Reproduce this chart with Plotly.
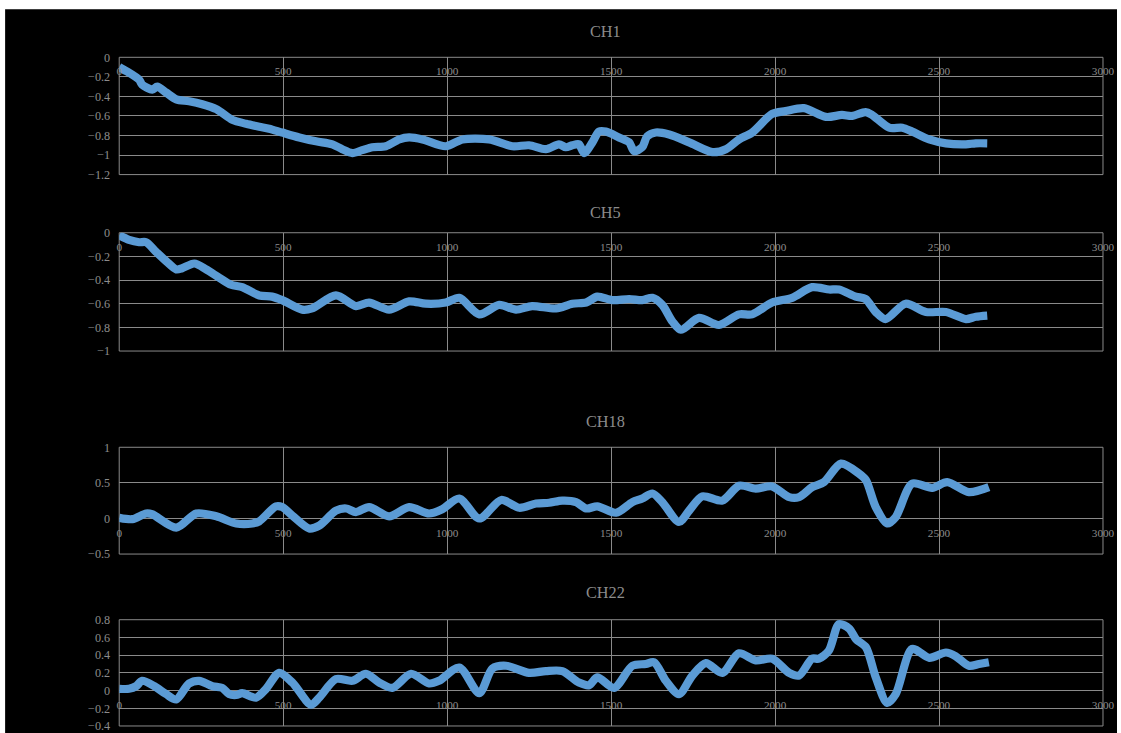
import plotly.graph_objects as go

# Sample index for each channel trace
ch1_x = [0, 21, 61, 70, 101, 116, 143, 174, 213, 253, 296, 345, 387, 427, 457, 497, 549, 600, 650, 680,
         711, 741, 772, 813, 854, 884, 925, 996, 1047, 1128, 1199, 1250, 1301, 1341, 1362, 1382, 1402,
         1418, 1443, 1463, 1484, 1524, 1555, 1570, 1595, 1610, 1636, 1677, 1738, 1809, 1850, 1890, 1930,
         1991, 2032, 2088, 2155, 2204, 2235, 2276, 2296, 2348, 2388, 2418, 2470, 2521, 2582, 2612, 2647]
ch1_y = [-0.10, -0.14, -0.23, -0.28, -0.33, -0.30, -0.36, -0.43, -0.45, -0.48, -0.53, -0.64, -0.68, -0.71,
         -0.73, -0.77, -0.82, -0.86, -0.89, -0.94, -0.98, -0.95, -0.92, -0.91, -0.84, -0.82, -0.84, -0.91,
         -0.84, -0.84, -0.91, -0.90, -0.94, -0.89, -0.92, -0.90, -0.89, -0.98, -0.87, -0.76, -0.76, -0.82,
         -0.87, -0.96, -0.92, -0.81, -0.77, -0.79, -0.87, -0.97, -0.94, -0.84, -0.77, -0.58, -0.55, -0.52,
         -0.61, -0.59, -0.60, -0.56, -0.59, -0.72, -0.72, -0.76, -0.84, -0.88, -0.89, -0.88, -0.88]

ch5_x = [0, 30, 61, 82, 112, 143, 174, 192, 229, 265, 305, 341, 375, 427, 466, 497, 558, 588, 661, 722,
         762, 823, 884, 935, 996, 1037, 1098, 1159, 1210, 1259, 1332, 1382, 1424, 1458, 1504, 1555, 1595,
         1626, 1656, 1687, 1713, 1768, 1829, 1890, 1930, 1991, 2052, 2113, 2165, 2195, 2246, 2276, 2307,
         2337, 2398, 2460, 2521, 2582, 2612, 2647]
ch5_y = [-0.02, -0.06, -0.08, -0.08, -0.16, -0.24, -0.31, -0.30, -0.26, -0.31, -0.38, -0.44, -0.46, -0.53,
         -0.54, -0.57, -0.65, -0.64, -0.53, -0.62, -0.59, -0.65, -0.58, -0.60, -0.59, -0.55, -0.69, -0.61,
         -0.65, -0.62, -0.64, -0.60, -0.59, -0.54, -0.57, -0.56, -0.57, -0.55, -0.61, -0.75, -0.82, -0.72,
         -0.78, -0.69, -0.69, -0.59, -0.55, -0.46, -0.48, -0.48, -0.54, -0.56, -0.67, -0.73, -0.60, -0.67,
         -0.67, -0.73, -0.71, -0.70]

ch18_x = [0, 40, 82, 100, 174, 235, 296, 357, 406, 427, 478, 497, 528, 579, 610, 661, 692, 722, 762, 823,
          884, 945, 985, 1037, 1098, 1165, 1220, 1271, 1311, 1351, 1393, 1424, 1458, 1515, 1565, 1595,
          1626, 1656, 1707, 1738, 1778, 1839, 1890, 1941, 1991, 2043, 2073, 2113, 2149, 2201, 2256, 2277,
          2307, 2342, 2368, 2418, 2479, 2525, 2591, 2652]
ch18_y = [0.01, -0.01, 0.07, 0.06, -0.13, 0.07, 0.03, -0.07, -0.07, -0.04, 0.17, 0.16, 0.04, -0.14, -0.10,
          0.11, 0.14, 0.09, 0.16, 0.03, 0.16, 0.07, 0.13, 0.28, 0.00, 0.26, 0.15, 0.21, 0.22, 0.25, 0.23,
          0.14, 0.17, 0.08, 0.23, 0.28, 0.35, 0.23, -0.05, 0.11, 0.31, 0.25, 0.46, 0.42, 0.45, 0.30, 0.30,
          0.44, 0.51, 0.77, 0.63, 0.54, 0.16, -0.07, 0.02, 0.49, 0.43, 0.51, 0.37, 0.44]

ch22_x = [0, 30, 52, 70, 107, 143, 174, 213, 244, 284, 314, 335, 357, 375, 417, 448, 488, 528, 585, 610,
          661, 711, 752, 793, 833, 890, 945, 975, 1037, 1098, 1138, 1180, 1250, 1301, 1351, 1402, 1433,
          1458, 1509, 1565, 1606, 1631, 1667, 1707, 1748, 1789, 1839, 1890, 1941, 1991, 2043, 2073, 2113,
          2134, 2164, 2195, 2226, 2247, 2277, 2307, 2342, 2368, 2418, 2470, 2521, 2550, 2591, 2622, 2652]
ch22_y = [0.02, 0.02, 0.05, 0.11, 0.05, -0.04, -0.10, 0.08, 0.11, 0.05, 0.03, -0.04, -0.05, -0.03, -0.08,
          0.02, 0.20, 0.09, -0.16, -0.08, 0.13, 0.11, 0.19, 0.09, 0.03, 0.19, 0.08, 0.11, 0.26, -0.03, 0.25,
          0.28, 0.20, 0.22, 0.22, 0.09, 0.06, 0.15, 0.03, 0.28, 0.30, 0.32, 0.11, -0.04, 0.17, 0.31, 0.20,
          0.42, 0.34, 0.36, 0.20, 0.17, 0.36, 0.36, 0.45, 0.75, 0.70, 0.58, 0.49, 0.15, -0.14, -0.04, 0.47,
          0.37, 0.43, 0.39, 0.28, 0.30, 0.32]

titles = ["CH1", "CH5", "CH18", "CH22"]
x_ticks = [0, 500, 1000, 1500, 2000, 2500, 3000]

# the page keeps the default body margin; layout positions below are given
# in view pixels of a 1121x733 frame and converted to figure coordinates
VIEW_W, VIEW_H, BODY = 1121, 733, 8
SX = VIEW_W / (VIEW_W + 2 * BODY)
SY = VIEW_H / (VIEW_H + 2 * BODY)
XSHIFT = 4
W, H = VIEW_W + BODY, VIEW_H + BODY
LINE = "#5b9bd5"
GRID = "#8a8a8a"
TEXT = "#8c8c8c"
FONT = "Liberation Serif"


def px(x):
    return min(1.0, ((x + XSHIFT) / SX - BODY) / W)


def py(y):
    return 1 - (y / SY - BODY) / H


# panel geometry in view pixels: (top, bottom, zero-line y, y range, y step)
panels = [
    (58, 175, 58, (-1.2, 0), 0.2),
    (233, 351, 233, (-1.0, 0), 0.2),
    (447, 553.5, 518, (-0.5, 1.0), 0.5),
    (619, 725, 689.7, (-0.4, 0.8), 0.2),
]
title_y = [32, 213, 421, 592]
series = [(ch1_x, ch1_y), (ch5_x, ch5_y), (ch18_x, ch18_y), (ch22_x, ch22_y)]

fig = go.Figure()
layout = dict(
    width=W, height=H,
    margin=dict(l=0, r=0, t=0, b=0),
    paper_bgcolor="white",
    plot_bgcolor="black",
    showlegend=False,
    font=dict(family=FONT, color=TEXT, size=11),
)
shapes = [dict(type="rect", xref="paper", yref="paper", x0=px(6), x1=px(1117), y0=0, y1=py(10),
               fillcolor="black", line=dict(width=0), layer="below")]
annotations = []

for i, ((top, bot, zero, yr, dy), (xs, ys)) in enumerate(zip(panels, series)):
    n = "" if i == 0 else str(i + 1)
    fig.add_trace(go.Scatter(
        x=xs, y=ys, mode="lines", xaxis="x" + n, yaxis="y" + n,
        line=dict(color=LINE, width=8.2, shape="spline", smoothing=0.8),
        hoverinfo="skip",
    ))
    layout["xaxis" + n] = dict(
        domain=[px(120), px(1103)], range=[0, 3000], tickvals=x_ticks,
        showgrid=True, gridcolor=GRID, gridwidth=1, zeroline=False,
        anchor="free", position=py(zero), side="bottom",
        showline=False, ticks="", ticklabelstandoff=6,
        tickfont=dict(family=FONT, color=TEXT, size=11.2),
    )
    layout["yaxis" + n] = dict(
        domain=[py(bot), py(top)], range=list(yr), dtick=dy, tick0=0,
        showgrid=True, gridcolor=GRID, gridwidth=1, zeroline=False,
        anchor="x" + n, showline=False, ticks="", ticklabelstandoff=8,
        tickfont=dict(family=FONT, color=TEXT, size=12.2),
    )
    shapes.append(dict(type="rect", xref="x" + n + " domain", yref="y" + n + " domain",
                       x0=0, x1=1, y0=0, y1=1, line=dict(color=GRID, width=1), layer="below"))
    annotations.append(dict(text=titles[i], xref="paper", yref="paper", x=px(606), y=py(title_y[i]),
                            showarrow=False, xanchor="center", yanchor="middle",
                            font=dict(family=FONT, color=TEXT, size=16.3)))

layout["shapes"] = shapes
layout["annotations"] = annotations
fig.update_layout(**layout)
fig.write_html("out.html")
